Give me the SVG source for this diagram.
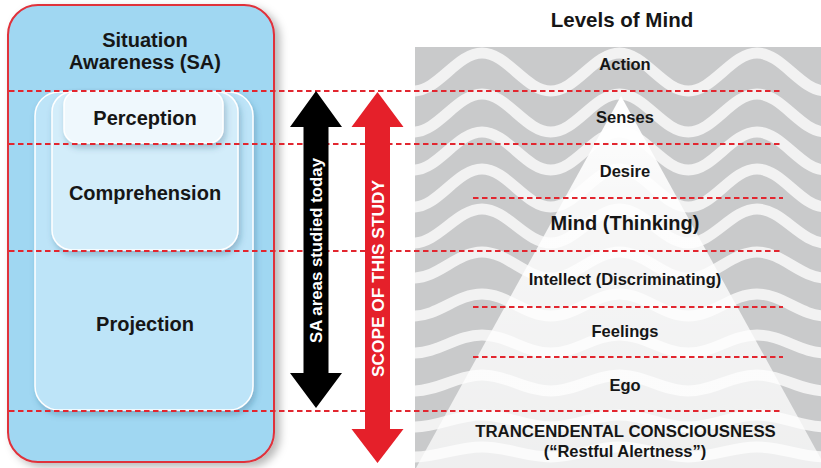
<svg xmlns="http://www.w3.org/2000/svg" width="821" height="468" viewBox="0 0 821 468">
<defs>
<style>
.t{font-family:"Liberation Sans",Arial,Helvetica,sans-serif;font-weight:bold;fill:#161616;text-anchor:middle}
.lv{font-size:16.5px}
.sa{font-size:20px}
.wave{fill:none;stroke:#f2f2f2;stroke-width:11}
.dash{stroke:#e2262f;stroke-width:2.1;stroke-dasharray:5.5 3.5;fill:none}
.at{font-family:"Liberation Sans",Arial,Helvetica,sans-serif;font-weight:bold;fill:#ffffff;text-anchor:middle;font-size:16.8px}
</style>
<clipPath id="panel"><rect x="415" y="47" width="406" height="421"/></clipPath>
<linearGradient id="tri" x1="0" y1="0" x2="0" y2="1">
<stop offset="0" stop-color="#ffffff" stop-opacity="1"/>
<stop offset="0.3" stop-color="#ffffff" stop-opacity="0.85"/>
<stop offset="1" stop-color="#ffffff" stop-opacity="0.7"/>
</linearGradient>
<filter id="sh" x="-10%" y="-10%" width="130%" height="125%">
<feDropShadow dx="5" dy="4" stdDeviation="4" flood-color="#000" flood-opacity="0.28"/>
</filter>
<filter id="sh2" x="-10%" y="-15%" width="130%" height="140%">
<feDropShadow dx="2" dy="4" stdDeviation="3" flood-color="#1c4f6e" flood-opacity="0.3"/>
</filter>
</defs>

<!-- Levels of Mind panel -->
<g id="levels-panel">
<rect x="415" y="47" width="406" height="421" fill="#c9cacb"/>
<g clip-path="url(#panel)">
<path class="wave" d="M344.5,53 C369.54,53 388.21,91 413.25,91 S457,53 482,53 S525.71,91 550.75,91 S594.46,53 619.5,53 S663.21,91 688.25,91 S731.96,53 757,53 S800.71,91 825.75,91"/>
<path class="wave" d="M344.5,94 C369.54,94 388.21,132 413.25,132 S457,94 482,94 S525.71,132 550.75,132 S594.46,94 619.5,94 S663.21,132 688.25,132 S731.96,94 757,94 S800.71,132 825.75,132"/>
<path class="wave" d="M344.5,132 C369.54,132 388.21,170 413.25,170 S457,132 482,132 S525.71,170 550.75,170 S594.46,132 619.5,132 S663.21,170 688.25,170 S731.96,132 757,132 S800.71,170 825.75,170"/>
<path class="wave" d="M344.5,169 C369.54,169 388.21,207 413.25,207 S457,169 482,169 S525.71,207 550.75,207 S594.46,169 619.5,169 S663.21,207 688.25,207 S731.96,169 757,169 S800.71,207 825.75,207"/>
<path class="wave" d="M344.5,209 C369.54,209 388.21,243 413.25,243 S457,209 482,209 S525.71,243 550.75,243 S594.46,209 619.5,209 S663.21,243 688.25,243 S731.96,209 757,209 S800.71,243 825.75,243"/>
<path class="wave" d="M344.5,252 C369.54,252 388.21,278 413.25,278 S457,252 482,252 S525.71,278 550.75,278 S594.46,252 619.5,252 S663.21,278 688.25,278 S731.96,252 757,252 S800.71,278 825.75,278"/>
<path class="wave" d="M344.5,294 C369.54,294 388.21,316 413.25,316 S457,294 482,294 S525.71,316 550.75,316 S594.46,294 619.5,294 S663.21,316 688.25,316 S731.96,294 757,294 S800.71,316 825.75,316"/>
<path class="wave" d="M344.5,335 C369.54,335 388.21,353 413.25,353 S457,335 482,335 S525.71,353 550.75,353 S594.46,335 619.5,335 S663.21,353 688.25,353 S731.96,335 757,335 S800.71,353 825.75,353"/>
<path class="wave" d="M344.5,375 C369.54,375 388.21,391 413.25,391 S457,375 482,375 S525.71,391 550.75,391 S594.46,375 619.5,375 S663.21,391 688.25,391 S731.96,375 757,375 S800.71,391 825.75,391"/>
<path class="wave" d="M344.5,415 C369.54,415 388.21,427 413.25,427 S457,415 482,415 S525.71,427 550.75,427 S594.46,415 619.5,415 S663.21,427 688.25,427 S731.96,415 757,415 S800.71,427 825.75,427"/>
<path class="wave" d="M344.5,447 C369.54,447 388.21,457 413.25,457 S457,447 482,447 S525.71,457 550.75,457 S594.46,447 619.5,447 S663.21,457 688.25,457 S731.96,447 757,447 S800.71,457 825.75,457"/>
<polygon points="621,96 826,468 416,468" fill="url(#tri)"/>
</g>
</g>

<!-- Situation Awareness box -->
<g id="sa-box">
<rect x="8" y="5" width="266" height="457" rx="30" fill="#a0d7f2" stroke="#e0303a" stroke-width="2" filter="url(#sh)"/>
<text class="t sa" x="145" y="47">Situation</text>
<text class="t sa" x="145" y="69">Awareness (SA)</text>
</g>
<g id="projection">
<rect x="35" y="92" width="218" height="318" rx="24" fill="#bde4f8" stroke="#ffffff" stroke-width="1.5" filter="url(#sh2)"/>
<text class="t sa" x="145" y="331">Projection</text>
</g>
<g id="comprehension">
<rect x="52" y="92" width="186" height="158" rx="20" fill="#d3edfa" stroke="#ffffff" stroke-width="1.5" filter="url(#sh2)"/>
<text class="t sa" x="145" y="200">Comprehension</text>
</g>
<g id="perception">
<rect x="64" y="91" width="159" height="52" rx="14" fill="#eff8fd" stroke="#ffffff" stroke-width="1.5" filter="url(#sh2)"/>
<text class="t sa" x="145" y="125">Perception</text>
</g>

<!-- dashed level lines -->
<g id="connectors">
<line class="dash" x1="9" y1="91" x2="783" y2="91"/>
<line class="dash" x1="9" y1="144" x2="783" y2="144"/>
<line class="dash" x1="473" y1="198" x2="783" y2="198"/>
<line class="dash" x1="9" y1="251" x2="783" y2="251"/>
<line class="dash" x1="473" y1="307" x2="783" y2="307"/>
<line class="dash" x1="473" y1="357" x2="783" y2="357"/>
<line class="dash" x1="9" y1="411" x2="783" y2="411"/>
</g>

<!-- arrows -->
<g id="sa-areas-arrow">
<polygon points="316,91 342,127 328.5,127 328.5,373 342,373 316,408 290,373 303.5,373 303.5,127 290,127" fill="#000000"/>
<text class="at" transform="translate(322,250.5) rotate(-90)" textLength="185" lengthAdjust="spacingAndGlyphs">SA areas studied today</text>
</g>
<g id="scope-arrow">
<polygon points="377.5,92 403.5,127 390,127 390,429 403.5,429 377.5,463 351.5,429 365,429 365,127 351.5,127" fill="#e5202a"/>
<text class="at" transform="translate(383.5,278.5) rotate(-90)" textLength="197" lengthAdjust="spacingAndGlyphs">SCOPE OF THIS STUDY</text>
</g>

<!-- level labels -->
<g id="levels-title"><text class="t" x="622" y="27" font-size="20.5">Levels of Mind</text></g>
<g id="level-action"><text class="t lv" x="625" y="70">Action</text></g>
<g id="level-senses"><text class="t lv" x="625" y="123">Senses</text></g>
<g id="level-desire"><text class="t lv" x="625" y="177">Desire</text></g>
<g id="level-mind"><text class="t" x="625" y="230" font-size="20">Mind (Thinking)</text></g>
<g id="level-intellect"><text class="t lv" x="625" y="285">Intellect (Discriminating)</text></g>
<g id="level-feelings"><text class="t lv" x="625" y="337">Feelings</text></g>
<g id="level-ego"><text class="t lv" x="625" y="391">Ego</text></g>
<g id="level-tc">
<text class="t" x="625.5" y="437" font-size="16.8">TRANCENDENTAL CONSCIOUSNESS</text>
<text class="t lv" x="625" y="457">(“Restful Alertness”)</text>
</g>
</svg>
